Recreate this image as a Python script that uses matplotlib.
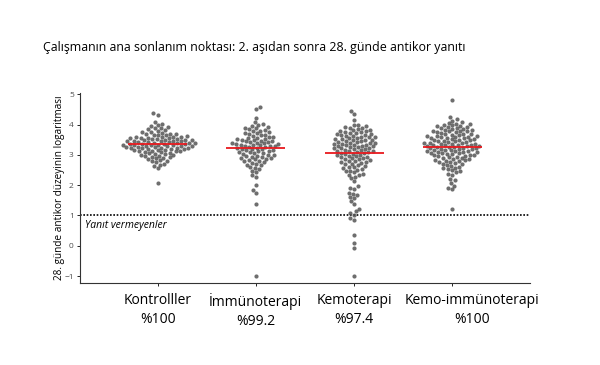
import matplotlib.pyplot as plt
import numpy as np
import pandas as pd
import seaborn as sns

plt.rcParams['font.family'] = ['Open Sans', 'DejaVu Sans']

groups = ["Kontrolller", "İmmünoterapi", "Kemoterapi", "Kemo-immünoterapi"]
response_rates = ["%100", "%99.2", "%97.4", "%100"]
medians = [3.35, 3.22, 3.06, 3.25]

control = [
    4.37, 4.33, 4.09, 4.03, 3.98, 3.95, 3.91, 3.89, 3.87, 3.84, 3.81,
    3.79, 3.76, 3.75, 3.72, 3.70,
    3.69, 3.68, 3.66, 3.65, 3.64, 3.62, 3.60,
    3.59, 3.58, 3.58, 3.57, 3.56, 3.55, 3.54, 3.53, 3.52, 3.51, 3.50,
    3.49, 3.49, 3.48, 3.47, 3.46, 3.45, 3.44, 3.44, 3.43, 3.42, 3.41, 3.40,
    3.39, 3.39, 3.38, 3.37, 3.36, 3.36, 3.35, 3.34, 3.33, 3.32, 3.32, 3.31, 3.30,
    3.29, 3.29, 3.28, 3.27, 3.26, 3.25, 3.24, 3.24, 3.23, 3.22, 3.21, 3.20,
    3.19, 3.18, 3.17, 3.16, 3.15, 3.14, 3.13, 3.12, 3.11, 3.10,
    3.09, 3.07, 3.05, 3.04, 3.02, 3.00,
    2.99, 2.97, 2.95, 2.94, 2.92, 2.90, 2.89, 2.86, 2.83, 2.81,
    2.78, 2.75, 2.71, 2.68, 2.62, 2.56, 2.06,
]

immuno = [
    4.58, 4.51, 4.21, 4.07, 4.02, 3.98, 3.94, 3.91, 3.89, 3.87, 3.84, 3.81,
    3.79, 3.77, 3.75, 3.73, 3.71, 3.69, 3.67, 3.65, 3.63, 3.60,
    3.59, 3.57, 3.55, 3.53, 3.52, 3.50,
    3.49, 3.47, 3.46, 3.44, 3.43, 3.42, 3.40,
    3.39, 3.38, 3.37, 3.35, 3.34, 3.33, 3.31, 3.30,
    3.29, 3.28, 3.27, 3.25, 3.24, 3.21, 3.20,
    3.19, 3.18, 3.16, 3.15, 3.13, 3.11,
    3.09, 3.08, 3.06, 3.05, 3.03, 3.00,
    2.99, 2.97, 2.95, 2.94, 2.92, 2.90, 2.89, 2.87, 2.85, 2.83, 2.81,
    2.79, 2.76, 2.74, 2.71, 2.68, 2.65, 2.61, 2.58, 2.53, 2.48, 2.43,
    2.33, 2.28, 2.01, 1.84, 1.73, 1.37, -1.00,
]

chemo = [
    4.43, 4.35, 4.16,
    3.99, 3.97, 3.94, 3.92, 3.89, 3.87, 3.85, 3.83, 3.81,
    3.79, 3.78, 3.76, 3.74, 3.72, 3.71,
    3.69, 3.68, 3.66, 3.65, 3.63, 3.62, 3.60,
    3.59, 3.58, 3.56, 3.55, 3.53, 3.52, 3.50,
    3.49, 3.48, 3.46, 3.45, 3.43, 3.42, 3.40,
    3.39, 3.38, 3.37, 3.35, 3.34, 3.33, 3.31, 3.30,
    3.29, 3.28, 3.27, 3.25, 3.24, 3.23, 3.21, 3.20,
    3.19, 3.17, 3.16, 3.14, 3.13, 3.11, 3.10,
    3.09, 3.07, 3.06, 3.04, 3.02, 3.00,
    2.99, 2.97, 2.95, 2.94, 2.92, 2.90,
    2.89, 2.87, 2.85, 2.83, 2.81,
    2.79, 2.77, 2.75, 2.73, 2.71,
    2.69, 2.66, 2.64, 2.61, 2.59, 2.56, 2.54, 2.51,
    2.48, 2.45, 2.42, 2.38, 2.35, 2.32, 2.28, 2.23, 2.14,
    1.96, 1.92, 1.88, 1.74, 1.70, 1.66, 1.60, 1.56, 1.46, 1.38,
    1.21, 1.15, 1.09, 1.02, 0.93, 0.86, 0.36, 0.10, -0.06, -1.00,
]

chemo_immuno = [
    4.80, 4.24, 4.17, 4.13, 4.09, 4.06, 4.03, 4.01,
    3.99, 3.97, 3.96, 3.94, 3.92, 3.91,
    3.89, 3.88, 3.86, 3.85, 3.83, 3.82, 3.80,
    3.79, 3.78, 3.77, 3.75, 3.74, 3.72, 3.70,
    3.69, 3.68, 3.67, 3.65, 3.63, 3.62, 3.61, 3.60,
    3.59, 3.58, 3.57, 3.56, 3.55, 3.53, 3.52, 3.50,
    3.49, 3.48, 3.47, 3.46, 3.45, 3.43, 3.42, 3.40,
    3.39, 3.38, 3.37, 3.36, 3.35, 3.34, 3.33, 3.32, 3.31, 3.30,
    3.29, 3.28, 3.27, 3.26, 3.25, 3.24, 3.22, 3.21, 3.20,
    3.19, 3.18, 3.17, 3.16, 3.15, 3.13, 3.12, 3.11, 3.10,
    3.09, 3.08, 3.07, 3.06, 3.05, 3.04, 3.02, 3.00,
    2.99, 2.98, 2.96, 2.95, 2.94, 2.92, 2.90,
    2.89, 2.87, 2.85, 2.84, 2.82, 2.80, 2.79, 2.77, 2.75, 2.73, 2.71,
    2.69, 2.66, 2.64, 2.61, 2.58, 2.55, 2.52, 2.49, 2.46, 2.42, 2.38, 2.33,
    2.21, 2.17, 2.08, 1.98, 1.90, 1.86, 1.20,
]

values = [control, immuno, chemo, chemo_immuno]
df = pd.DataFrame({
    "grup": np.repeat(groups, [len(v) for v in values]),
    "deger": np.concatenate(values),
})

fig = plt.figure(figsize=(6, 3.65), dpi=100)
ax = fig.add_axes([0.1333, 0.2247, 0.75, 0.5205])

sns.swarmplot(data=df, x="grup", y="deger", order=groups, color="#555555",
              size=3.0, alpha=0.85, linewidth=0, ax=ax, warn_thresh=1)

# median lines
pos = np.arange(len(groups))
ax.hlines(medians, pos - 0.3, pos + 0.3, color="#e8191e", lw=1.3, zorder=5)

# threshold line
ax.axhline(1, color="black", ls=(0, (1, 1)), lw=1.2)
ax.text(-0.74, 0.67, "Yanıt vermeyenler", style="italic", fontsize=7.5, va="center")

ax.set_xlim(-0.79, 3.79)
ax.set_ylim(-1.23, 5.04)
ax.set_yticks(range(-1, 6))
ax.set_xticks(pos)
ax.set_xticklabels([])

# category labels; the last one sits a bit to the right of its tick
label_shift = [0, 0, 0, 0.2]
for x, g, r, s in zip(pos, groups, response_rates, label_shift):
    ax.annotate(f"{g}\n{r}", xy=(x + s, 0), xycoords=("data", "axes fraction"),
                xytext=(0, -7.5), textcoords="offset points",
                ha="center", va="top", fontsize=10, linespacing=1.3,
                multialignment="center", annotation_clip=False)

ax.tick_params(axis="y", labelsize=6, labelcolor="#4d4d4d", length=2.5, width=0.6, pad=2)
ax.tick_params(axis="x", length=2.5, width=0.6)
ax.set_xlabel("")
ax.set_ylabel("28. günde antikor düzeyinin logaritması", fontsize=7.2, labelpad=-0.5)

for side in ["top", "right"]:
    ax.spines[side].set_visible(False)
for side in ["left", "bottom"]:
    ax.spines[side].set_color("#333333")
    ax.spines[side].set_linewidth(0.8)

fig.text(43 / 600, 1 - 47 / 365,
         "Çalışmanın ana sonlanım noktası: 2. aşıdan sonra 28. günde antikor yanıtı",
         fontsize=8.9, ha="left", va="center")

fig.savefig("out.png", dpi=100)
